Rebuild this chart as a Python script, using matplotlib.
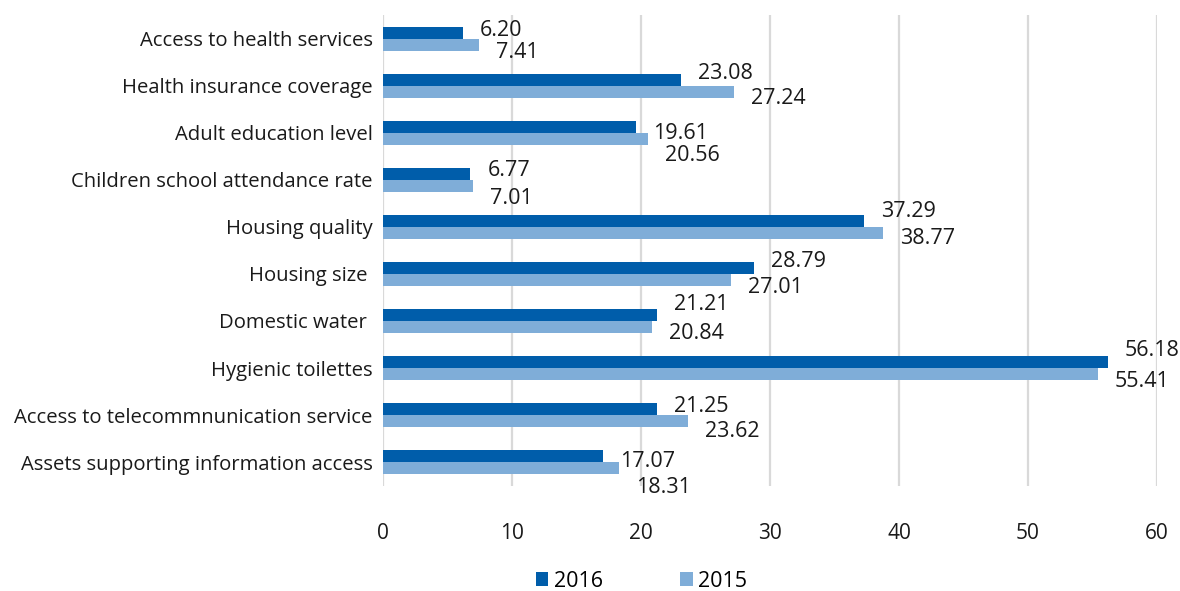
import matplotlib
matplotlib.use("Agg")
import matplotlib.pyplot as plt
import numpy as np

plt.rcParams['font.family'] = ['Open Sans', 'DejaVu Sans']

categories = [
    "Access to health services",
    "Health insurance coverage",
    "Adult education level",
    "Children school attendance rate",
    "Housing quality",
    "Housing size ",
    "Domestic water ",
    "Hygienic toilettes",
    "Access to telecommnunication service",
    "Assets supporting information access",
]
values_2016 = [6.20, 23.08, 19.61, 6.77, 37.29, 28.79, 21.21, 56.18, 21.25, 17.07]
values_2015 = [7.41, 27.24, 20.56, 7.01, 38.77, 27.01, 20.84, 55.41, 23.62, 18.31]
xticks = [0, 10, 20, 30, 40, 50, 60]

# label vertical shifts in pixels (downward), as placed in the original
shift_2016 = [-4, -8.5, 4.5, -5, -11, -8, -12.5, -13.5, -4, 4]
shift_2015 = [5, 4.5, 14.5, 10.5, 3.5, 5, 4.5, 5, 8.5, 17]

c2016 = "#005DAA"
c2015 = "#7FADD8"
tc = "#1a1a1a"

fig = plt.figure(figsize=(11.8, 5.91), dpi=100)
ax = fig.add_axes([0.3246, 0.1785, 0.9805 - 0.3246, 0.9738 - 0.1785])

n = len(categories)
y = np.arange(n)
h = 0.256
ax.barh(y - h / 2, values_2016, height=h, color=c2016, label="2016", zorder=3)
ax.barh(y + h / 2, values_2015, height=h, color=c2015, label="2015", zorder=3)

half_digit = 7.5
for yi, v, s in zip(y, values_2016, shift_2016):
    ax.annotate(f"{v:.2f}", (v, yi - h / 2), xytext=(17, -(s + half_digit)),
                textcoords="offset pixels", ha="left", va="baseline", fontsize=15.5, color=tc)
for yi, v, s in zip(y, values_2015, shift_2015):
    ax.annotate(f"{v:.2f}", (v, yi + h / 2), xytext=(17, -(s + half_digit)),
                textcoords="offset pixels", ha="left", va="baseline", fontsize=15.5, color=tc)

ax.set_ylim(n - 0.5, -0.5)
ax.set_xlim(0, 60)
ax.set_yticks(y)
ax.set_yticklabels(categories, fontsize=14.6, color=tc)
ax.set_xticks(xticks)
ax.set_xticklabels([str(t) for t in xticks], fontsize=15, color=tc)
ax.tick_params(axis='y', length=0, pad=7.5)
ax.tick_params(axis='x', length=0, pad=27)
ax.grid(axis='x', color="#d9d9d9", linewidth=1.6, zorder=0)
for s in ax.spines.values():
    s.set_visible(False)

leg = fig.legend(loc="center", bbox_to_anchor=(0.5436, 0.0165), ncol=2, frameon=False,
                 fontsize=15.5, handlelength=0.58, handleheight=0.58, columnspacing=3.6,
                 handletextpad=0.25, borderpad=0)

fig.savefig("out.png", dpi=100)
